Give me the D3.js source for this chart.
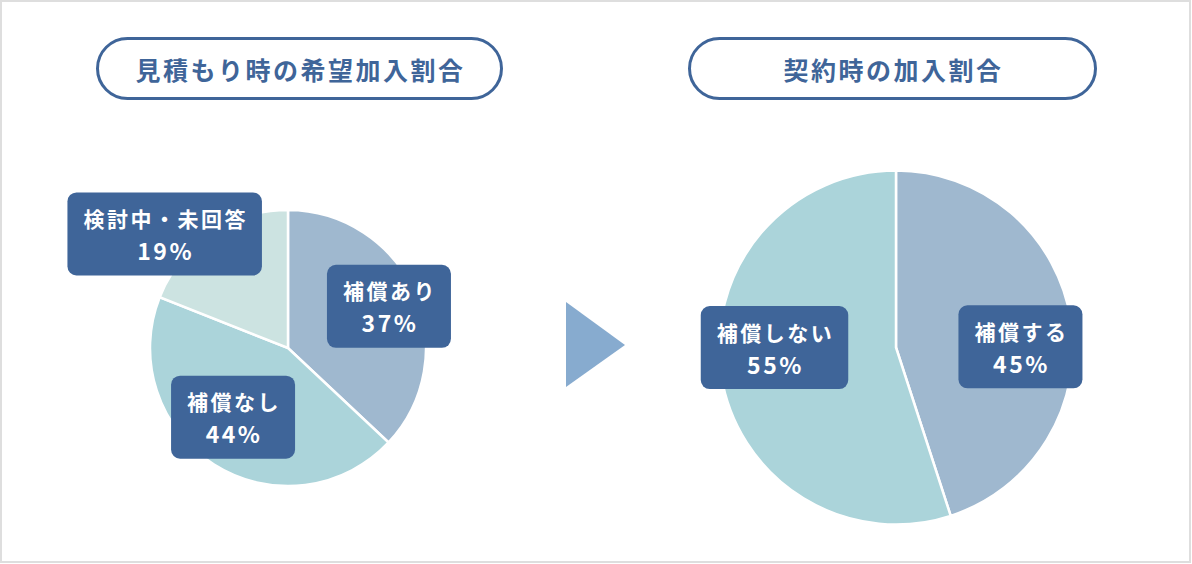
<!DOCTYPE html>
<html><head><meta charset="utf-8">
<script src="https://cdn.jsdelivr.net/npm/d3@7"></script>
<style>
html,body{margin:0;padding:0;background:#fff;}
svg{display:block;font-family:"Noto Sans CJK JP","Noto Sans",sans-serif;}
</style></head>
<body>
<svg id="c" width="1192" height="564"></svg>
<script>
// ---- data ----
const titles = ["見積もり時の希望加入割合", "契約時の加入割合"];
const leftCategories = ["補償あり", "補償なし", "検討中・未回答"];
const leftValues = [37, 44, 19];
const rightCategories = ["補償する", "補償しない"];
const rightValues = [45, 55];

// ---- styles ----
const NAVY = "#3f6599";
const leftColors = ["#9fb8cf", "#abd4da", "#cce3e1"];
const rightColors = ["#9fb8cf", "#abd4da"];

const svg = d3.select("#c");
svg.append("rect").attr("x",1).attr("y",1).attr("width",1189).attr("height",561)
  .attr("fill","#fff").attr("stroke","#dedede").attr("stroke-width",2);

// title pills
const pills = [{x:96,w:407},{x:688,w:409}];
titles.forEach((t,i)=>{
  const p = pills[i];
  svg.append("rect").attr("x",p.x+1.5).attr("y",38.5).attr("width",p.w-3).attr("height",60)
    .attr("rx",30).attr("fill","#fff").attr("stroke",NAVY).attr("stroke-width",3);
  svg.append("text").attr("x",p.x+p.w/2+1).attr("y",69).attr("text-anchor","middle")
    .attr("dominant-baseline","central").attr("fill",NAVY)
    .attr("font-size",25).attr("font-weight",700).attr("letter-spacing",2.5)
    .text(t);
});

// arrow
svg.append("path").attr("d","M566,302 L625,345 L566,387 Z").attr("fill","#87abcf");

function drawPie(cx, cy, r, cats, vals, colors, labelCfg){
  const pie = d3.pie().sort(null).startAngle(0).endAngle(2*Math.PI);
  const arcs = pie(vals);
  const arc = d3.arc().innerRadius(0).outerRadius(r);
  const g = svg.append("g").attr("transform",`translate(${cx},${cy})`);
  g.selectAll("path.s").data(arcs).join("path").attr("class","s")
    .attr("d",arc).attr("fill",(d,i)=>colors[i])
    .attr("stroke","#fff").attr("stroke-width",2.5).attr("stroke-linejoin","miter");
  arcs.forEach((d,i)=>{
    const cfg = labelCfg[i];
    const la = d3.arc().innerRadius(cfg.rad).outerRadius(cfg.rad);
    const [px,py] = la.centroid(d);
    const x = px + cfg.dx, y = py + cfg.dy;
    const lg = g.append("g").attr("transform",`translate(${x},${y})`);
    const rect = lg.append("rect").attr("fill",NAVY).attr("rx",9);
    const t1 = lg.append("text").attr("x",1).attr("y",-16).attr("text-anchor","middle")
      .attr("dominant-baseline","central").attr("fill","#fff")
      .attr("font-size",21).attr("font-weight",700).attr("letter-spacing",2.5).text(cats[i]);
    const t2 = lg.append("text").attr("x",1).attr("y",16).attr("text-anchor","middle")
      .attr("dominant-baseline","central").attr("fill","#fff")
      .attr("font-size",23).attr("font-weight",700).attr("letter-spacing",2.5).text(vals[i]+"%");
    const w = Math.max(t1.node().getComputedTextLength(), t2.node().getComputedTextLength()) + 30;
    rect.attr("x",-w/2).attr("y",-41.5).attr("width",w).attr("height",83);
  });
}

drawPie(288, 348, 138, leftCategories, leftValues, leftColors, [
  {rad:110, dx:0, dy:2},
  {rad:82, dx:-11, dy:0},
  {rad:150, dx:-39, dy:10}
]);
drawPie(896, 347.5, 177, rightCategories, rightValues, rightColors, [
  {rad:126, dx:0, dy:19},
  {rad:122, dx:-1, dy:-19}
]);
</script>
</body></html>
